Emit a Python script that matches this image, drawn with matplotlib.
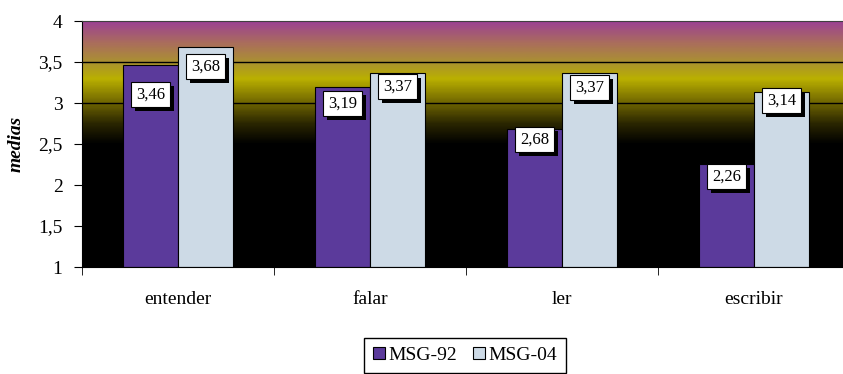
import numpy as np
import matplotlib
matplotlib.use('Agg')
import matplotlib.pyplot as plt
from matplotlib.colors import LinearSegmentedColormap
from matplotlib.patches import Rectangle

plt.rcParams['font.family'] = ['Liberation Serif', 'DejaVu Serif']

categories = ['entender', 'falar', 'ler', 'escribir']
msg92 = [3.46, 3.19, 2.68, 2.26]
msg04 = [3.68, 3.37, 3.37, 3.14]
series_names = ['MSG-92', 'MSG-04']
yticks = [1, 1.5, 2, 2.5, 3, 3.5, 4]
ytick_labels = ['1', '1,5', '2', '2,5', '3', '3,5', '4']

# how far each label box sits below its bar top (pixels), as placed in the original
drop92 = [29, 16, 10, 13]
drop04 = [19, 14, 15, 9]

fig = plt.figure(figsize=(8.43, 3.74), dpi=100)
ax = fig.add_axes([82 / 843, 107 / 374, 768 / 843, 246 / 374])

# background gradient: black below 2.5, up through olive/yellow to purple at the top
grad = LinearSegmentedColormap.from_list('bg', [
    (0.0, '#000000'), (0.5, '#000000'), (0.583, '#2a2600'), (0.667, '#6e6400'),
    (0.767, '#bab000'), (0.833, '#aa9230'), (0.917, '#aa6c5e'), (1.0, '#9c4292')])
ax.imshow(np.linspace(1, 4, 300).reshape(-1, 1), cmap=grad, vmin=1, vmax=4,
          aspect='auto', origin='lower', extent=[-0.5, 3.5, 1, 4], zorder=0)

for y in yticks[1:-1]:
    ax.axhline(y, color='black', lw=1, zorder=1)

x = np.arange(len(categories))
w = 0.286
b1 = ax.bar(x - w / 2, np.array(msg92) - 1, w, bottom=1, color='#5b3a9b',
            edgecolor='black', lw=0.8, zorder=2, label=series_names[0])
b2 = ax.bar(x + w / 2, np.array(msg04) - 1, w, bottom=1, color='#cddae6',
            edgecolor='black', lw=0.8, zorder=2, label=series_names[1])

labels = []
for i in range(len(categories)):
    for xc, val, drop in [(x[i] - w / 2, msg92[i], drop92[i]), (x[i] + w / 2, msg04[i], drop04[i])]:
        t = ax.annotate(('%.2f' % val).replace('.', ','), (xc, val), xytext=(0, -drop),
                        textcoords='offset pixels', ha='center', va='center',
                        fontsize=12, zorder=4,
                        bbox=dict(boxstyle='square,pad=0.28', fc='white', ec='black', lw=0.8))
        labels.append(t)

ax.set_xlim(-0.5, 3.5)
ax.set_ylim(1, 4)
ax.set_yticks(yticks)
ax.set_yticklabels(ytick_labels, fontsize=14)
ax.set_xticks(x)
ax.set_xticklabels(categories, fontsize=14)
ax.set_xticks(np.arange(-0.5, 3.6, 1), minor=True)
ax.tick_params(axis='x', which='major', length=0, pad=17)
ax.tick_params(axis='x', which='minor', length=6, direction='out')
ax.tick_params(axis='y', length=6, direction='out', pad=8)
ax.spines['top'].set_color('#404040')
ax.spines['right'].set_visible(False)
ax.set_ylabel('medias', fontsize=14, fontweight='bold', style='italic', labelpad=10)

fig.legend(handles=[b1, b2], labels=series_names, loc='upper center',
           bbox_to_anchor=(465 / 843, 1 - 338 / 374), ncol=2, fontsize=14,
           frameon=True, fancybox=False, edgecolor='black', framealpha=1,
           handlelength=0.6, handleheight=0.6, handletextpad=0.2, columnspacing=0.8,
           borderpad=0.45, borderaxespad=0)

# drop shadows behind the label boxes
fig.canvas.draw()
for t in labels:
    bb = t.get_bbox_patch().get_window_extent()
    ax.add_patch(Rectangle((bb.x0 + 4, bb.y0 - 4), bb.width, bb.height, transform=None,
                           fc='black', ec='none', zorder=3))

fig.savefig('out.png', dpi=100)
